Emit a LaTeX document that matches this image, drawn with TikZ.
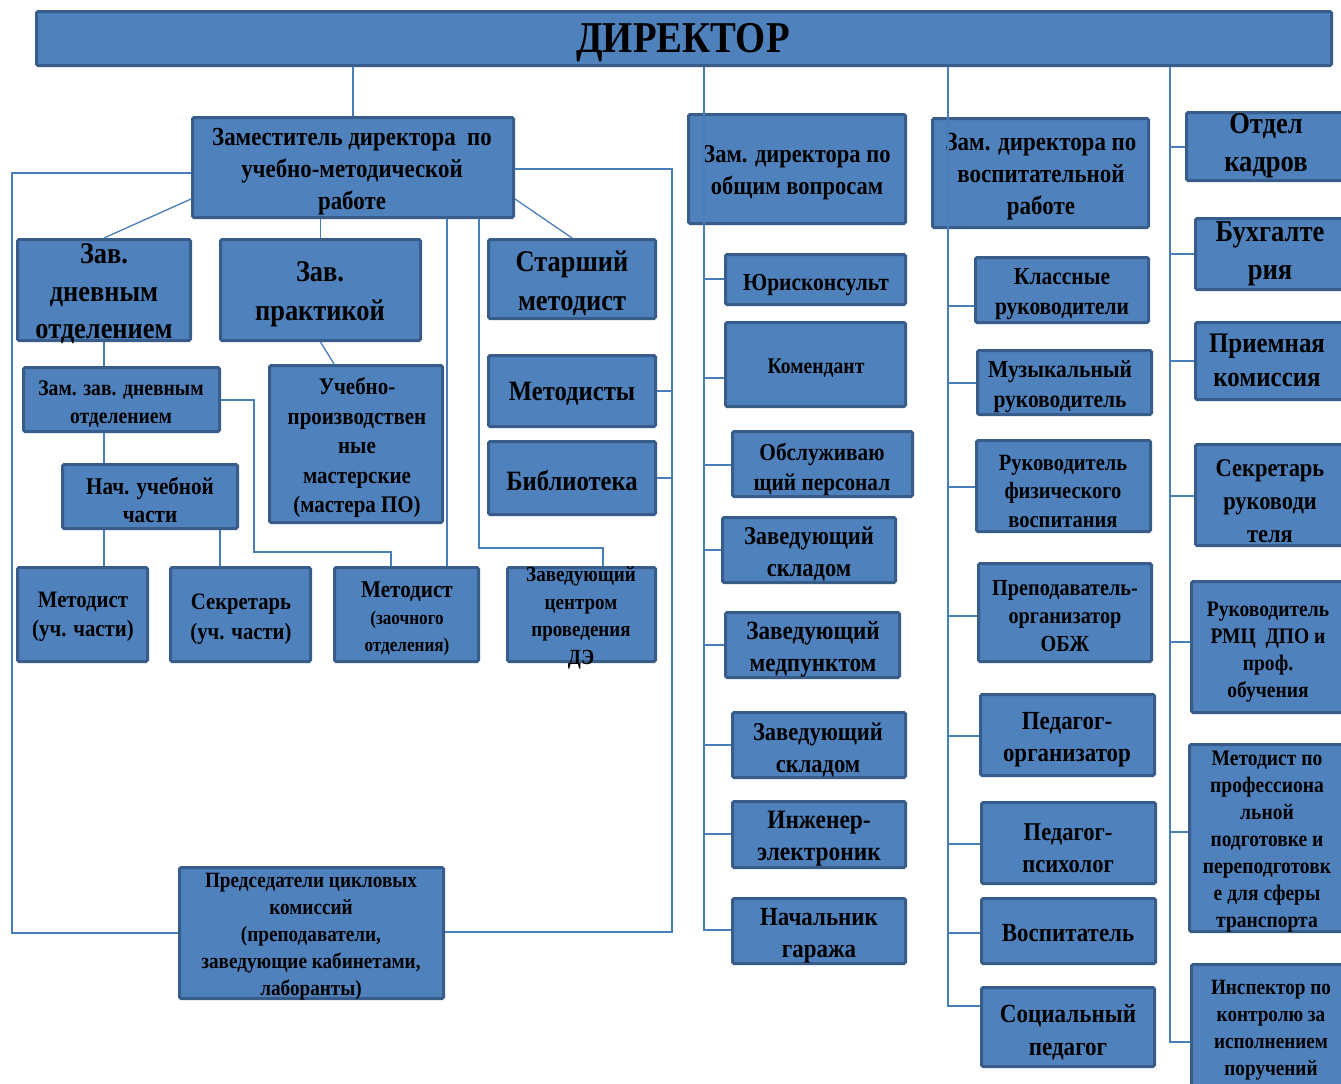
\documentclass[tikz,border=0pt]{standalone}
\usepackage{fontspec}
\newfontfamily\tnr[FakeStretch=0.88]{Liberation Serif}
\definecolor{boxfill}{HTML}{4F81BD}
\definecolor{boxline}{HTML}{385D8A}
\definecolor{conncol}{HTML}{4A7EBB}
\tikzset{
  boxst/.style={draw=boxline, fill=boxfill, line width=3pt, rounded corners=1.5pt, inner sep=0pt, shape=rectangle},
  txt/.style={inner sep=0pt, align=center, text=black},
  conn/.style={draw=conncol, line width=1.3pt}
}
% name, x1, y1, x2, y2, tx, ty, {size}{skip}, text
\newcommand\bx[9]{%
  \node[boxst, minimum width={#4-#2-3}, minimum height={#5-#3-3}] (#1) at ({(#2+#4)/2},{(#3+#5)/2}) {};
  \node[txt, font=\tnr\bfseries\fontsize#8\selectfont] (#1t) at (#6,{#7+2}) {#9};
}
\newcommand\smallz{\fontsize{19.5}{24}\selectfont}
\begin{document}
\begin{tikzpicture}[x=1pt,y=-1pt]
\clip (0,0) rectangle (1341,1084);
\fill[white] (0,0) rectangle (1341,1084);

\bx{dir}{35}{10}{1333}{67}{683}{41}{{44}{50}}{ДИРЕКТОР}

\bx{zumr}{191}{116}{515}{219}{352}{170}{{26}{32}}{Заместитель директора~~по\\учебно-методической\\работе}
\bx{zdn}{16}{238}{192}{342}{104}{292}{{30}{37.5}}{Зав.\\дневным\\отделением}
\bx{zpr}{219}{238}{422}{342}{320}{292}{{30}{39}}{Зав.\\практикой}
\bx{smet}{487}{238}{657}{320}{572}{281}{{30}{39}}{Старший\\методист}
\bx{mets}{487}{354}{657}{428}{572}{392}{{28}{34}}{Методисты}
\bx{bib}{487}{440}{657}{516}{572}{479}{{28}{34}}{Библиотека}
\bx{zzdn}{22}{366}{221}{433}{121}{402}{{22.3}{28}}{Зам. зав. дневным\\отделением}
\bx{upm}{268}{364}{444}{524}{357}{446}{{23.8}{29.5}}{Учебно-\\производствен\\ные\\мастерские\\(мастера ПО)}
\bx{nuch}{61}{463}{239}{530}{150}{498}{{24}{28}}{Нач. учебной\\части}
\bx{metu}{16}{566}{149}{663}{83}{615}{{23.6}{29}}{Методист\\(уч. части)}
\bx{sekr}{169}{566}{312}{663}{241}{617}{{23.5}{30}}{Секретарь\\(уч. части)}
\bx{metz}{333}{566}{480}{663}{407}{617}{{24}{27}}{Методист\\\smallz(заочного\\\smallz отделения)}
\bx{zcde}{506}{566}{657}{663}{581}{616}{{21.6}{27.5}}{Заведующий\\центром\\проведения\\ДЭ}
\bx{pred}{178}{866}{445}{1000}{311}{935}{{21.8}{27}}{Председатели цикловых\\комиссий\\(преподаватели,\\заведующие кабинетами,\\лаборанты)}

\bx{zob}{687}{113}{907}{225}{797}{171}{{25.6}{32}}{Зам. директора по\\общим вопросам}
\bx{jur}{724}{253}{907}{306}{816}{283}{{24.4}{28}}{Юрисконсульт}
\bx{kom}{724}{321}{907}{408}{816}{366}{{22.3}{26}}{Комендант}
\bx{obs}{731}{430}{914}{498}{822}{467}{{24.2}{30}}{Обслуживаю\\щий персонал}
\bx{zskla}{721}{516}{897}{584}{809}{552}{{25.6}{32}}{Заведующий\\складом}
\bx{zmed}{724}{611}{901}{679}{813}{647}{{26.3}{32}}{Заведующий\\медпунктом}
\bx{zsklb}{731}{711}{907}{779}{818}{748}{{25.6}{32}}{Заведующий\\складом}
\bx{ing}{731}{800}{907}{869}{819}{837}{{26.6}{32}}{Инженер-\\электроник}
\bx{gar}{731}{897}{907}{965}{819}{934}{{26.1}{32}}{Начальник\\гаража}

\bx{zvos}{931}{117}{1150}{229}{1041}{175}{{26.1}{32}}{Зам. директора по\\воспитательной\\работе}
\bx{kl}{974}{256}{1150}{324}{1062}{292}{{24.4}{30}}{Классные\\руководители}
\bx{muz}{976}{349}{1153}{416}{1060}{385}{{24.4}{30}}{Музыкальный\\руководитель}
\bx{rfv}{975}{439}{1152}{533}{1063}{489}{{23.3}{28.5}}{Руководитель\\физического\\воспитания}
\bx{obzh}{977}{562}{1153}{663}{1065}{614}{{23}{28}}{Преподаватель-\\организатор\\ОБЖ}
\bx{porg}{979}{693}{1156}{777}{1067}{738}{{26.1}{32}}{Педагог-\\организатор}
\bx{pps}{980}{801}{1157}{885}{1068}{846}{{25.6}{32}}{Педагог-\\психолог}
\bx{vosp}{980}{897}{1157}{965}{1068}{931}{{26.1}{32}}{Воспитатель}
\bx{soc}{980}{986}{1156}{1068}{1068}{1030}{{26.2}{33}}{Социальный\\педагог}

\bx{ok}{1185}{111}{1352}{182}{1266}{144}{{30.2}{38}}{Отдел\\кадров}
\bx{buh}{1194}{217}{1352}{291}{1270}{252}{{30.2}{38}}{Бухгалте\\рия}
\bx{prk}{1194}{321}{1352}{401}{1267}{358}{{28.3}{34}}{Приемная\\комиссия}
\bx{sekrr}{1194}{443}{1352}{547}{1270}{499}{{25.5}{33}}{Секретарь\\руководи\\теля}
\bx{rmc}{1190}{580}{1352}{714}{1268}{650}{{22.2}{27}}{Руководитель\\РМЦ~~ДПО и\\проф.\\обучения}
\bx{mpp}{1188}{743}{1352}{933}{1267}{840}{{22.2}{27}}{Методист по\\профессиона\\льной\\подготовке и\\переподготовк\\е для сферы\\транспорта}
\bx{insp}{1190}{963}{1352}{1100}{1271}{1028}{{21.8}{27}}{Инспектор по\\контролю за\\исполнением\\поручений}

% spines
\coordinate (spm) at (704,930);
\coordinate (spv) at (948,1006);
\coordinate (spr) at (1170,1042);
\coordinate (brL) at (12,933);
\coordinate (brR) at (672,932);

\draw[conn] (zumr.north) -- (zumr.north |- dir.south);
% middle column
\draw[conn] (dir.south -| spm) -- (spm) -- (gar.west |- spm);
\foreach \n/\y in {jur/279, kom/378, obs/465, zskla/550, zmed/645, zsklb/745, ing/834}
  \draw[conn] (\n.west |- 0,\y) -- (spm |- 0,\y);
% third column
\draw[conn] (dir.south -| spv) -- (spv) -- (soc.west |- spv);
\foreach \n/\y in {kl/306, muz/383, rfv/487, obzh/616, porg/736, pps/844, vosp/933}
  \draw[conn] (\n.west |- 0,\y) -- (spv |- 0,\y);
% fourth column
\draw[conn] (dir.south -| spr) -- (spr) -- (insp.west |- spr);
\foreach \n/\y in {ok/147, buh/254, prk/361, sekrr/496, rmc/642, mpp/832}
  \draw[conn] (\n.west |- 0,\y) -- (spr |- 0,\y);

% left column brackets
\draw[conn] (zumr.west |- 0,173) -- (brL |- 0,173) -- (brL) -- (pred.west |- brL);
\draw[conn] (zumr.east |- 0,169) -- (brR |- 0,169) -- (brR) -- (pred.east |- brR);
\draw[conn] (mets.east |- 0,391) -- (brR |- 0,391);
\draw[conn] (bib.east |- 0,478) -- (brR |- 0,478);

\draw[conn] (zumr.west |- 0,199) -- (zdn.north);
\draw[conn] (zpr.north) -- (zpr.north |- zumr.south);
\draw[conn] (zumr.east |- 0,199) -- (smet.north);
\draw[conn] (zumr.south -| 447,0) -- (metz.north -| 447,0);
\draw[conn] (zumr.south -| 479,0) -- (479,548) -- (603,548) -- (zcde.north -| 603,0);
\draw[conn] (zdn.south) -- (zzdn.north -| zdn.south);
\draw[conn] (zzdn.south -| 104,0) -- (nuch.north -| 104,0);
\draw[conn] (nuch.south -| 104,0) -- (metu.north -| 104,0);
\draw[conn] (nuch.south -| 220,0) -- (sekr.north -| 220,0);
\draw[conn] (zzdn.east |- 0,400) -- (254,400) -- (254,552) -- (391,552) -- (metz.north -| 391,0);
\draw[conn] (zpr.south) -- (upm.north -| 334,0);
\end{tikzpicture}
\end{document}
